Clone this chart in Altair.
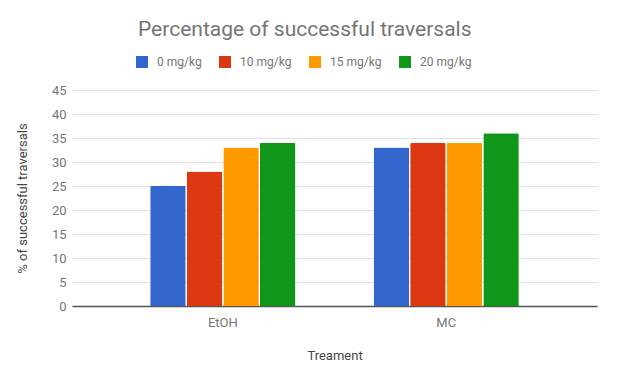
import altair as alt
import pandas as pd

treatments = ["EtOH", "MC"]
doses = ["0 mg/kg", "10 mg/kg", "15 mg/kg", "20 mg/kg"]
etoh_values = [25, 28, 33, 34]
mc_values = [33, 34, 34, 36]
colors = ["#3366cc", "#dc3912", "#ff9900", "#109618"]

rows = []
for t, vals in zip(treatments, [etoh_values, mc_values]):
    for d, v in zip(doses, vals):
        rows.append({"Treament": t, "Dose": d, "Value": v})
df = pd.DataFrame(rows)

font = "Roboto"

chart = alt.Chart(df).mark_bar(
    cornerRadiusTopLeft=1.5, cornerRadiusTopRight=1.5
).encode(
    x=alt.X("Treament:N", sort=treatments,
            scale=alt.Scale(paddingInner=0.35, paddingOuter=0.35),
            axis=alt.Axis(labelAngle=0, labelPadding=10, titlePadding=20,
                          ticks=False, domainColor="#555555", domainWidth=1.5,
                          labelColor="#757575", labelFontSize=13,
                          titleColor="#444444", titleFontSize=13,
                          titleFontWeight="normal", labelFont=font, titleFont=font)),
    xOffset=alt.XOffset("Dose:N", sort=doses, scale=alt.Scale(paddingInner=0.03)),
    y=alt.Y("Value:Q", scale=alt.Scale(domain=[0, 45]),
            axis=alt.Axis(values=list(range(0, 50, 5)), title="% of successful traversals",
                          ticks=False, domain=False, labelPadding=6, titlePadding=22,
                          gridColor="#e0e0e0", labelColor="#757575", labelFontSize=13,
                          titleColor="#444444", titleFontSize=13,
                          titleFontWeight="normal", labelFont=font, titleFont=font)),
    color=alt.Color("Dose:N", sort=doses,
                    scale=alt.Scale(domain=doses, range=colors),
                    legend=alt.Legend(title=None, orient="none", direction="horizontal",
                                      legendX=64, legendY=-34, symbolType="square",
                                      symbolSize=144, symbolStrokeWidth=0,
                                      labelFont=font, labelFontSize=12,
                                      labelColor="#757575", columnPadding=17,
                                      labelOffset=9, padding=0)),
).properties(
    width=525,
    height=216,
    title=alt.TitleParams("Percentage of successful traversals", anchor="start",
                          frame="group", dx=66, offset=16, font=font, fontSize=21,
                          fontWeight="normal", color="#757575"),
    autosize=alt.AutoSizeParams(type="none"),
    padding={"left": 64, "top": 82, "right": 12, "bottom": 59},
).configure_view(stroke=None)

chart.save("out.html", embed_options={"renderer": "svg", "actions": False})
